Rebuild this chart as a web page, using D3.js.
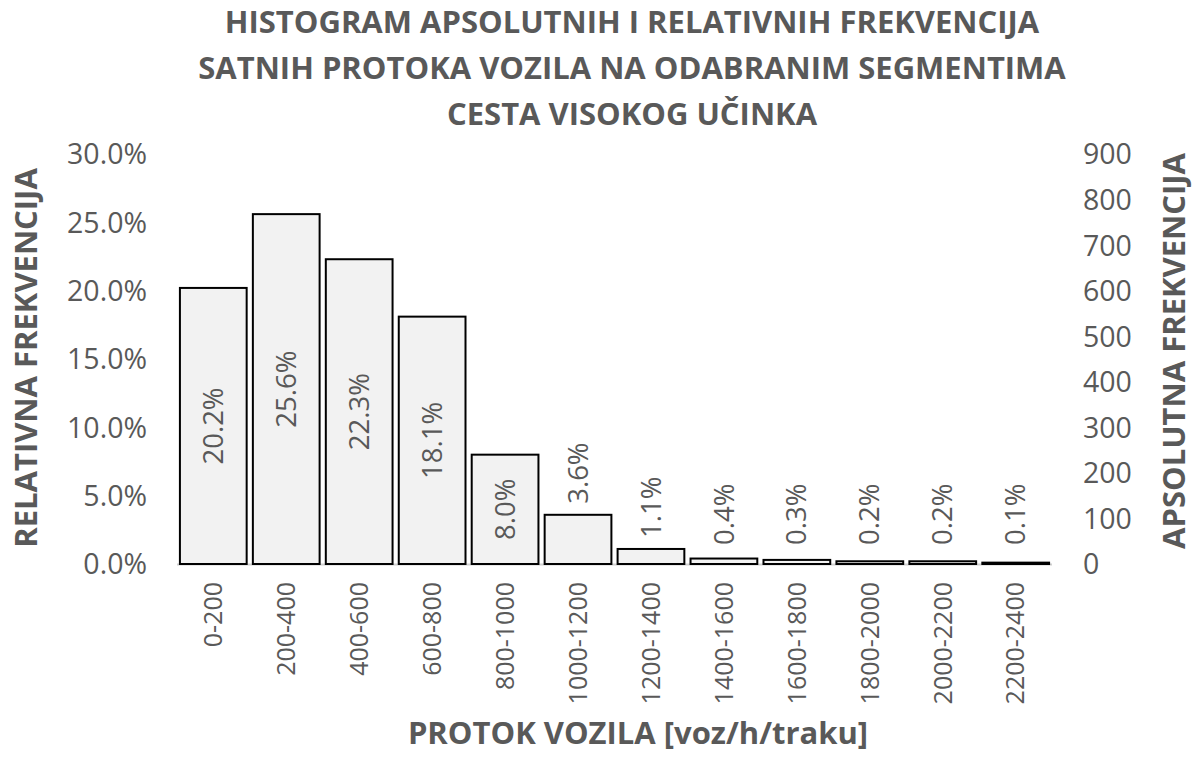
<!DOCTYPE html>
<html>
<head>
<meta charset="utf-8">
<script src="https://cdn.jsdelivr.net/npm/d3@7"></script>
<style>
  html, body { margin: 0; padding: 0; background: #fff; }
  svg text { font-family: "Open Sans", sans-serif; fill: #595959; }
</style>
</head>
<body>
<svg id="chart" width="1193" height="769"></svg>
<script>
const categories = ["0-200","200-400","400-600","600-800","800-1000","1000-1200","1200-1400","1400-1600","1600-1800","1800-2000","2000-2200","2200-2400"];
const relativeFreq = [20.2, 25.6, 22.3, 18.1, 8.0, 3.6, 1.1, 0.4, 0.3, 0.2, 0.2, 0.1];
const leftTicks = [0, 5, 10, 15, 20, 25, 30];
const rightTicks = [0, 100, 200, 300, 400, 500, 600, 700, 800, 900];
const titleLines = ["HISTOGRAM APSOLUTNIH I RELATIVNIH FREKVENCIJA", "SATNIH PROTOKA VOZILA NA ODABRANIM SEGMENTIMA", "CESTA VISOKOG UČINKA"];
const xTitle = "PROTOK VOZILA [voz/h/traku]";
const yLeftTitle = "RELATIVNA FREKVENCIJA";
const yRightTitle = "APSOLUTNA FREKVENCIJA";

const svg = d3.select("#chart");
const plot = { left: 177, right: 1052, top: 154, bottom: 564 };

const x = d3.scaleBand().domain(categories).range([plot.left, plot.right]).paddingInner(0.085).paddingOuter(0.04);
const yL = d3.scaleLinear().domain([0, 30]).range([plot.bottom, plot.top]);
const yR = d3.scaleLinear().domain([0, 900]).range([plot.bottom, plot.top]);

// Title
svg.append("g").selectAll("text").data(titleLines).join("text")
  .attr("x", 632).attr("y", (d, i) => 33 + i * 46)
  .attr("text-anchor", "middle")
  .style("font-size", "31px").style("font-weight", 700)
  .text(d => d);

// baseline
svg.append("line")
  .attr("x1", plot.left).attr("x2", plot.right)
  .attr("y1", plot.bottom + 0.5).attr("y2", plot.bottom + 0.5)
  .attr("stroke", "#d0d0d0").attr("stroke-width", 2);

// Left axis
const gL = svg.append("g").attr("transform", `translate(${plot.left - 30},0)`)
  .call(d3.axisLeft(yL).tickValues(leftTicks).tickSize(0).tickPadding(0).tickFormat(d => d3.format(".1f")(d) + "%"));
gL.select(".domain").remove();
gL.selectAll("text").style("font-size", "28.5px").attr("dy", "0.35em").style("font-family", "'Open Sans', sans-serif").attr("fill", "#595959");

// Right axis
const gR = svg.append("g").attr("transform", `translate(${plot.right + 31},0)`)
  .call(d3.axisRight(yR).tickValues(rightTicks).tickSize(0).tickPadding(0));
gR.select(".domain").remove();
gR.selectAll("text").style("font-size", "28.5px").attr("dy", "0.35em").style("font-family", "'Open Sans', sans-serif").attr("fill", "#595959");

// Bars
svg.append("g").selectAll("rect").data(relativeFreq).join("rect")
  .attr("x", (d, i) => x(categories[i]))
  .attr("width", x.bandwidth())
  .attr("y", d => yL(d))
  .attr("height", d => yL(0) - yL(d))
  .attr("fill", "#f2f2f2")
  .attr("stroke", "#000")
  .attr("stroke-width", 2);

// Bar labels
svg.append("g").selectAll("text").data(relativeFreq).join("text")
  .attr("transform", (d, i) => {
    const cx = x(categories[i]) + x.bandwidth() / 2;
    const cy = d >= 5 ? (yL(d) + yL(0)) / 2 : Math.min(yL(d) - 11, yL(0) - 19);
    return `translate(${cx},${cy}) rotate(-90)`;
  })
  .attr("text-anchor", d => d >= 5 ? "middle" : "start")
  .attr("dy", "0.35em")
  .style("font-size", "27.5px")
  .text(d => d3.format(".1f")(d) + "%");

// X tick labels
svg.append("g").selectAll("text").data(categories).join("text")
  .attr("transform", d => `translate(${x(d) + x.bandwidth() / 2},${plot.bottom + 18}) rotate(-90)`)
  .attr("text-anchor", "end")
  .attr("dy", "0.35em")
  .style("font-size", "25px")
  .text(d => d);

// Axis titles
svg.append("text")
  .attr("x", 638).attr("y", 744)
  .attr("text-anchor", "middle")
  .style("font-size", "31px").style("font-weight", 700)
  .text(xTitle);

svg.append("text")
  .attr("transform", "translate(37,358) rotate(-90)")
  .attr("text-anchor", "middle")
  .style("font-size", "31px").style("font-weight", 700)
  .text(yLeftTitle);

svg.append("text")
  .attr("transform", "translate(1185,351) rotate(-90)")
  .attr("text-anchor", "middle")
  .style("font-size", "31px").style("font-weight", 700)
  .text(yRightTitle);
</script>
</body>
</html>
